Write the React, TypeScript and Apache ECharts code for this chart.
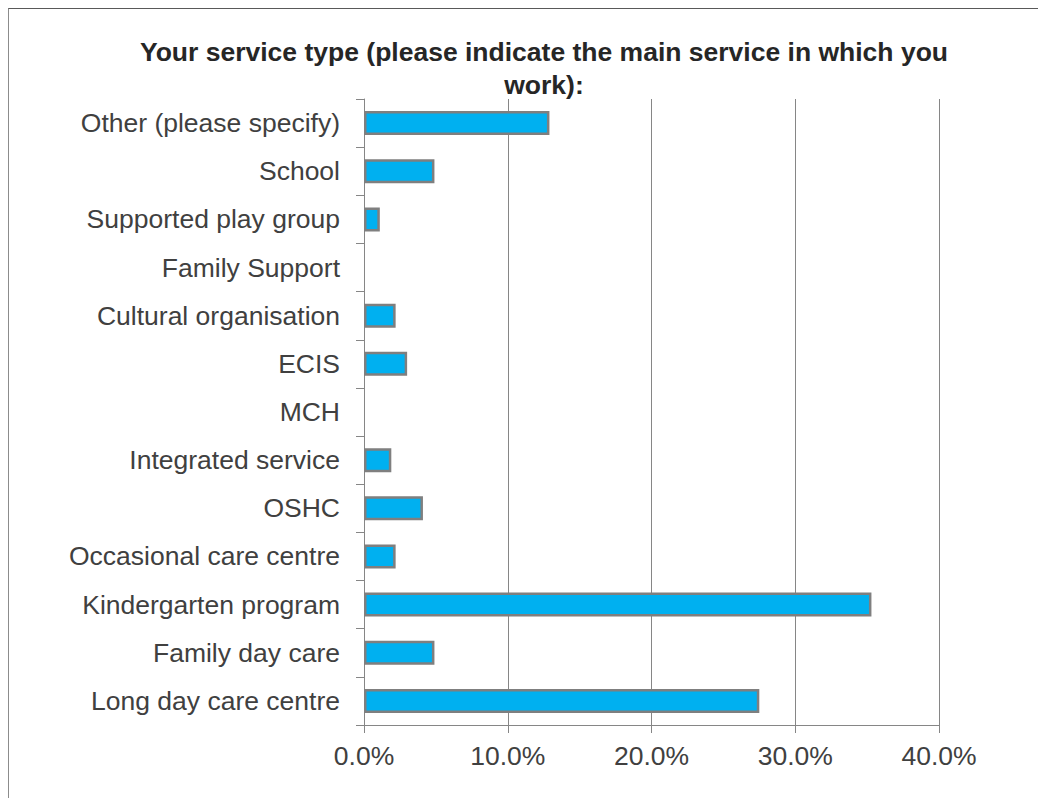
import React, { useEffect, useRef } from "react";
import * as echarts from "echarts";

const categories = [
  "Long day care centre",
  "Family day care",
  "Kindergarten program",
  "Occasional care centre",
  "OSHC",
  "Integrated service",
  "MCH",
  "ECIS",
  "Cultural organisation",
  "Family Support",
  "Supported play group",
  "School",
  "Other (please specify)",
];
const values = [27.5, 4.9, 35.3, 2.2, 4.1, 1.9, 0, 3.0, 2.2, 0, 1.1, 4.9, 12.9];
const xTicks = [0, 10, 20, 30, 40];
const titleText = "Your service type (please indicate the main service in which you\nwork):";

export default function App() {
  const ref = useRef<HTMLDivElement>(null);
  useEffect(() => {
    if (!ref.current) return;
    const chart = echarts.init(ref.current, null, { renderer: "svg" });
    const font = "'Liberation Sans', Arial, sans-serif";
    chart.setOption({
      animation: false,
      backgroundColor: "#ffffff",
      title: {
        text: titleText,
        left: 530,
        textAlign: "center",
        top: 21,
        textStyle: {
          fontFamily: font,
          fontSize: 26.5,
          fontWeight: "bold",
          color: "#262626",
          lineHeight: 33,
        },
      },
      grid: { left: 355, right: 107, top: 90, bottom: 73, containLabel: false },
      xAxis: {
        type: "value",
        min: xTicks[0],
        max: xTicks[xTicks.length - 1],
        interval: 10,
        axisLine: { show: true, lineStyle: { color: "#868686", width: 1 } },
        axisTick: { show: true, length: 8, lineStyle: { color: "#868686" } },
        splitLine: { show: true, lineStyle: { color: "#868686", width: 1 } },
        axisLabel: {
          fontFamily: font,
          fontSize: 26.5,
          color: "#404040",
          margin: 17,
          formatter: (v: number) => v.toFixed(1) + "%",
        },
      },
      yAxis: {
        type: "category",
        data: categories,
        axisLine: { show: true, lineStyle: { color: "#868686", width: 1 } },
        axisTick: { show: true, length: 8, alignWithLabel: false, lineStyle: { color: "#868686" } },
        axisLabel: {
          fontFamily: font,
          fontSize: 26.5,
          color: "#404040",
          margin: 24,
        },
      },
      series: [
        {
          type: "bar",
          data: values.map((v) =>
            v === 0 ? { value: v, itemStyle: { borderWidth: 0 } } : v
          ),
          barWidth: 24,
          itemStyle: {
            color: "#00B0F0",
            borderColor: "#7F7F7F",
            borderWidth: 2.5,
          },
        },
      ],
    });
    return () => chart.dispose();
  }, []);
  return (
    <div
      style={{
        width: 1038,
        height: 790,
        borderTop: "1px solid #595959",
        borderLeft: "1px solid #8c8c8c",
        boxSizing: "border-box",
      }}
    >
      <div ref={ref} style={{ width: 1037, height: 789 }} />
    </div>
  );
}
